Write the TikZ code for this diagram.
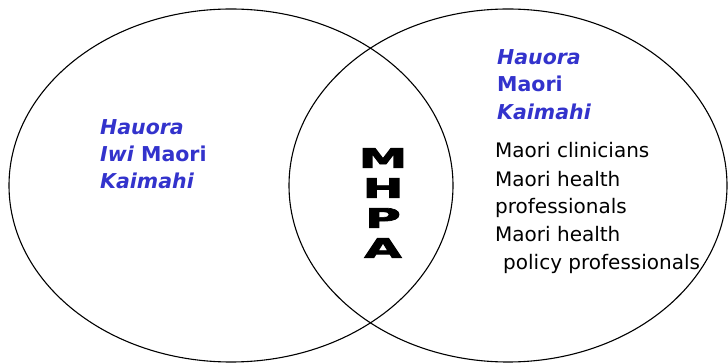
\documentclass[tikz,border=0pt]{standalone}
\usepackage{fontspec}
\setmainfont{DejaVu Sans}
\newfontfamily\mhpafont[FakeBold=2.5]{DejaVu Sans Bold}
\usepackage{graphicx}

\definecolor{kaimahiblue}{RGB}{51,51,204}

\tikzset{
    venn/.style={line width=1.1pt},
    kaimahi/.style={anchor=base west, inner sep=0pt, text=kaimahiblue,
        font=\fontsize{20.5}{20.5}\selectfont\bfseries},
    role/.style={anchor=base west, inner sep=0pt,
        font=\fontsize{20}{20}\selectfont},
    mhpa/.style={inner sep=0pt, font=\fontsize{27}{27}\selectfont\mhpafont},
}

\begin{document}
\begin{tikzpicture}[x=1pt,y=-1pt]
    \useasboundingbox (0,0) rectangle (728,363);

    % the two sets
    \draw [venn]
        (231,185.5) ellipse [x radius=222pt, y radius=176.5pt]
        ;
    \draw [venn]
        (508,185.5) ellipse [x radius=219pt, y radius=176.5pt]
        ;

    % left set
    \node [kaimahi] (lhauora)  at (100,135) {\itshape Hauora};
    \node [kaimahi] (liwi)     at (100,162) {\itshape Iwi\/ \upshape Maori};
    \node [kaimahi] (lkaimahi) at (100,189) {\itshape Kaimahi};

    % overlap
    \foreach \ch [count=\k] in {M,H,P,A}
        \node [mhpa] (mhpa\k) at (383,128+30*\k) {\scalebox{1.8}[1]{\ch}};

    % right set
    \node [kaimahi] (rhauora)  at (497,65)  {\itshape Hauora};
    \node [kaimahi] (rmaori)   at (497,92)  {Maori};
    \node [kaimahi] (rkaimahi) at (497,120) {\itshape Kaimahi};

    \node [role] (clinicians) at (495,158) {Maori clinicians};
    \node [role] (health)     at (495,187) {Maori health};
    \node [role] (profs)      at (495,214) {professionals};
    \node [role] (policy)     at (495,242) {Maori health};
    \node [role] (policyprof) at (503,270) {policy professionals};
\end{tikzpicture}
\end{document}
